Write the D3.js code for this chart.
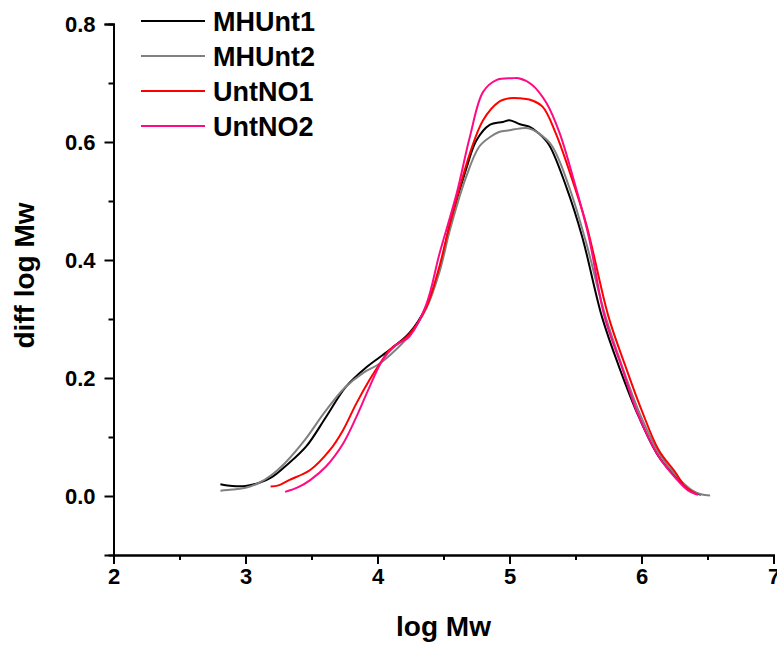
<!DOCTYPE html>
<html>
<head>
<meta charset="utf-8">
<script src="https://cdn.jsdelivr.net/npm/d3@7"></script>
<style>
  html, body { margin: 0; padding: 0; background: #fff; }
  svg { display: block; font-family: Arial, "Liberation Sans", sans-serif; }
</style>
</head>
<body>
<svg id="chart" width="777" height="647"></svg>
<script>
// ---- data ----
const seriesNames = ["MHUnt1", "MHUnt2", "UntNO1", "UntNO2"];
const seriesColors = ["#000000", "#808080", "#ff0000", "#ff0a84"];

const mhunt1 = [[2.81,0.020],[2.9,0.017],[3.0,0.017],[3.1,0.022],[3.2,0.032],[3.3,0.050],[3.46,0.084],[3.61,0.134],[3.76,0.185],[3.92,0.219],[4.04,0.239],[4.11,0.251],[4.24,0.276],[4.37,0.321],[4.47,0.385],[4.55,0.462],[4.67,0.553],[4.75,0.603],[4.85,0.629],[4.95,0.634],[5.0,0.637],[5.08,0.630],[5.15,0.626],[5.22,0.615],[5.30,0.595],[5.43,0.524],[5.55,0.440],[5.70,0.304],[5.83,0.219],[5.98,0.134],[6.13,0.067],[6.28,0.027],[6.36,0.010],[6.45,0.002]];
const mhunt2 = [[2.81,0.009],[2.9,0.011],[3.0,0.014],[3.1,0.022],[3.2,0.036],[3.3,0.056],[3.45,0.095],[3.6,0.142],[3.75,0.183],[3.9,0.210],[4.0,0.222],[4.1,0.240],[4.24,0.272],[4.37,0.318],[4.47,0.380],[4.55,0.452],[4.67,0.540],[4.77,0.592],[4.85,0.608],[4.92,0.617],[5.0,0.620],[5.08,0.623],[5.15,0.623],[5.22,0.615],[5.32,0.594],[5.45,0.525],[5.58,0.430],[5.72,0.310],[5.85,0.222],[5.99,0.138],[6.14,0.070],[6.28,0.030],[6.38,0.010],[6.45,0.003],[6.52,0.001]];
const untno1 = [[3.19,0.016],[3.25,0.018],[3.33,0.027],[3.49,0.044],[3.64,0.078],[3.74,0.112],[3.84,0.157],[3.94,0.197],[4.02,0.225],[4.09,0.247],[4.24,0.274],[4.37,0.320],[4.47,0.390],[4.55,0.462],[4.70,0.581],[4.80,0.637],[4.92,0.668],[5.0,0.674],[5.08,0.674],[5.15,0.672],[5.25,0.660],[5.35,0.615],[5.45,0.553],[5.58,0.462],[5.75,0.304],[5.88,0.219],[6.0,0.146],[6.13,0.078],[6.26,0.039],[6.33,0.016],[6.42,0.003]];
const untno2 = [[3.30,0.007],[3.40,0.015],[3.49,0.027],[3.61,0.050],[3.74,0.089],[3.84,0.134],[3.94,0.185],[4.04,0.231],[4.14,0.256],[4.24,0.270],[4.37,0.325],[4.47,0.411],[4.60,0.513],[4.70,0.609],[4.80,0.685],[4.90,0.705],[5.02,0.708],[5.07,0.708],[5.17,0.697],[5.28,0.666],[5.38,0.615],[5.48,0.541],[5.60,0.440],[5.72,0.304],[5.85,0.219],[5.97,0.140],[6.13,0.067],[6.26,0.030],[6.35,0.010],[6.43,0.002]];
const seriesData = [mhunt1, mhunt2, untno1, untno2];

const xTicks = [2, 3, 4, 5, 6, 7];
const xMinorTicks = [2.5, 3.5, 4.5, 5.5, 6.5];
const yTicks = [0.0, 0.2, 0.4, 0.6, 0.8];
const yMinorTicks = [0.1, 0.3, 0.5, 0.7];
const xTitle = "log Mw";
const yTitle = "diff log Mw";

// ---- drawing ----
const svg = d3.select("#chart");
const x = d3.scaleLinear().domain([2, 7]).range([113.5, 773.5]);
const y = d3.scaleLinear().domain([-0.1, 0.8]).range([555, 24]);

const axisColor = "#000";
const g = svg.append("g");

// X axis
const xAxis = g.append("g").attr("transform", `translate(0,${y(-0.1)})`);
xAxis.call(d3.axisBottom(x).tickValues(xTicks).tickFormat(d3.format("d")).tickSizeOuter(0).tickSize(9).tickPadding(4));
xAxis.append("g").call(d3.axisBottom(x).tickValues(xMinorTicks).tickFormat("").tickSizeOuter(0).tickSize(5));
xAxis.selectAll("path.domain").attr("stroke-width", 2).attr("stroke", axisColor);
xAxis.selectAll(".tick line").attr("stroke-width", 2).attr("stroke", axisColor);
xAxis.selectAll(".tick text").attr("font-size", 22).attr("font-weight", "bold").attr("fill", "#000").attr("font-family", "Arial, 'Liberation Sans', sans-serif");

// Y axis
const yAxis = g.append("g").attr("transform", `translate(${x(2)},0)`);
yAxis.call(d3.axisLeft(y).tickValues(yTicks).tickFormat(d3.format(".1f")).tickSizeOuter(0).tickSize(9).tickPadding(9));
yAxis.append("g").call(d3.axisLeft(y).tickValues(yMinorTicks).tickFormat("").tickSizeOuter(0).tickSize(5));
yAxis.selectAll("path.domain").attr("stroke-width", 2).attr("stroke", axisColor);
yAxis.selectAll(".tick line").attr("stroke-width", 2).attr("stroke", axisColor);
yAxis.selectAll(".tick text").attr("font-size", 22).attr("font-weight", "bold").attr("fill", "#000").attr("font-family", "Arial, 'Liberation Sans', sans-serif");

// Titles
svg.append("text")
  .attr("x", (x(2) + x(7)) / 2).attr("y", 636)
  .attr("text-anchor", "middle")
  .attr("font-size", 28).attr("font-weight", "bold")
  .text(xTitle);
svg.append("text")
  .attr("transform", `translate(34,${(y(-0.1) + y(0.8)) / 2 - 14}) rotate(-90)`)
  .attr("text-anchor", "middle")
  .attr("font-size", 28).attr("font-weight", "bold")
  .text(yTitle);

// Lines
const line = d3.line().x(d => x(d[0])).y(d => y(d[1])).curve(d3.curveCatmullRom.alpha(0.5));
seriesData.forEach((data, i) => {
  g.append("path")
    .datum(data)
    .attr("fill", "none")
    .attr("stroke", seriesColors[i])
    .attr("stroke-width", 2)
    .attr("d", line);
});

// Legend
const legend = svg.append("g").attr("transform", "translate(141,21)");
seriesNames.forEach((name, i) => {
  const row = legend.append("g").attr("transform", `translate(0,${i * 35})`);
  row.append("line").attr("x1", 0).attr("x2", 64).attr("y1", 0).attr("y2", 0)
    .attr("stroke", seriesColors[i]).attr("stroke-width", 2);
  row.append("text").attr("x", 72).attr("y", 10)
    .attr("font-size", 27).attr("font-weight", "bold").text(name);
});
</script>
</body>
</html>
